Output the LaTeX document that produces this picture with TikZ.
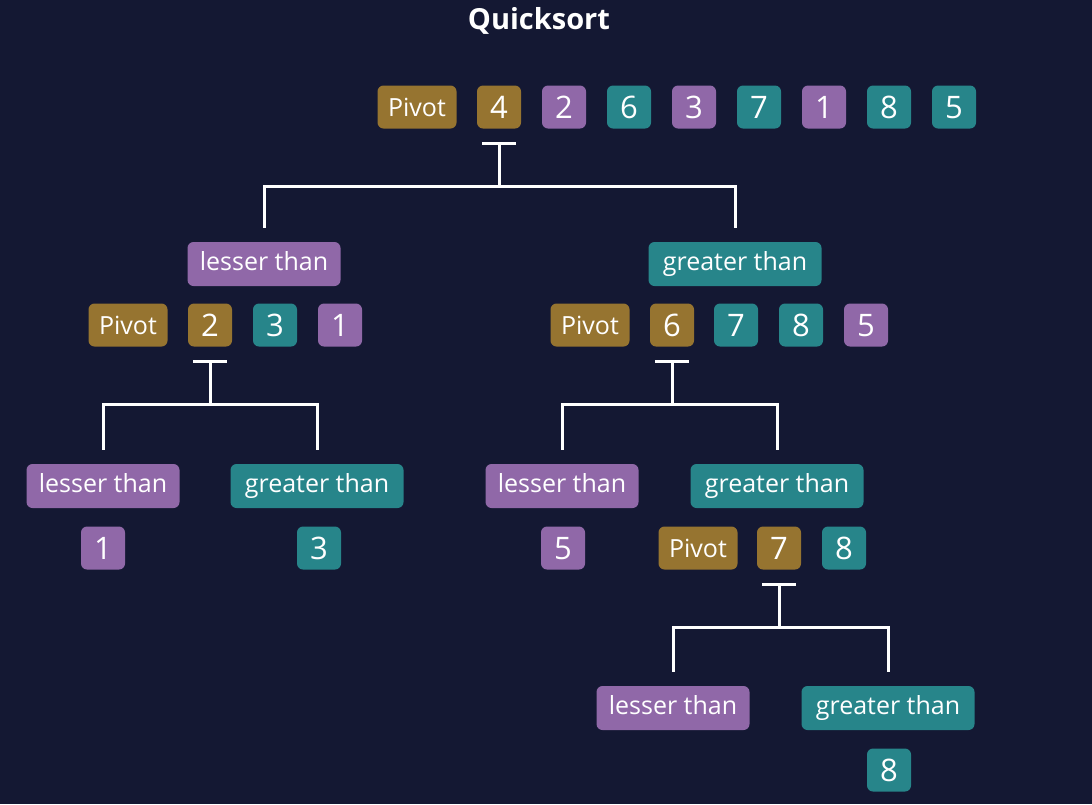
\documentclass[tikz,border=0pt]{standalone}
\usepackage{fontspec}
\setmainfont{Open Sans}
\usetikzlibrary{calc}
\definecolor{bg}{HTML}{141833}
\definecolor{gold}{HTML}{967430}
\definecolor{purp}{HTML}{9068A8}
\definecolor{tealc}{HTML}{27858A}
\begin{document}
\begin{tikzpicture}[x=1pt,y=-1pt,
 box/.style={rounded corners=6pt, inner sep=0pt, text=white, minimum height=43pt},
 num/.style={box, minimum width=44pt, font=\fontsize{31}{31}\selectfont, text height=22.5pt, text depth=0pt},
 pv/.style={box, fill=gold, minimum width=79pt, font=\fontsize{25}{25}\selectfont, text height=18pt, text depth=0pt},
 lbl/.style={box, minimum height=44pt, font=\fontsize{25}{25}\selectfont, text height=18.5pt, text depth=6pt},
 lt/.style={lbl, fill=purp, minimum width=153pt},
 gt/.style={lbl, fill=tealc, minimum width=173pt},
 G/.style={num, fill=gold}, P/.style={num, fill=purp}, T/.style={num, fill=tealc},
 conn/.style={draw=white, line width=3pt}]
\fill[bg] (0,0) rectangle (1092,804);
\node[font=\bfseries\fontsize{29}{29}\selectfont, text=white] (title) at (539,21) {Quicksort};
% row 1
\node[pv] (p1) at (417,107) {Pivot};
\node[G] (a4) at (499,107) {4};
\node[P] (a2) at (564,107) {2};
\node[T] (a6) at (629,107) {6};
\node[P] (a3) at (694,107) {3};
\node[T] (a7) at (759,107) {7};
\node[P] (a1) at (824,107) {1};
\node[T] (a8) at (889,107) {8};
\node[T] (a5) at (954,107) {5};
% row 2 labels
\node[lt] (lt1) at (264,264) {lesser than};
\node[gt] (gt1) at (735,264) {greater than};
% row 2 numbers
\node[pv] (p2) at (128,325) {Pivot};
\node[G] (b2) at (210,325) {2};
\node[T] (b3) at (275,325) {3};
\node[P] (b1) at (340,325) {1};
\node[pv] (p3) at (590,325) {Pivot};
\node[G] (c6) at (672,325) {6};
\node[T] (c7) at (736,325) {7};
\node[T] (c8) at (801,325) {8};
\node[P] (c5) at (866,325) {5};
% row 3 labels
\node[lt] (lt2) at (103,486) {lesser than};
\node[gt] (gt2) at (317,486) {greater than};
\node[lt] (lt3) at (562,486) {lesser than};
\node[gt] (gt3) at (777,486) {greater than};
% row 4
\node[P] (d1) at (103,548) {1};
\node[T] (d3) at (319,548) {3};
\node[P] (e5) at (563,548) {5};
\node[pv] (p4) at (698,548) {Pivot};
\node[G] (e7) at (779,548) {7};
\node[T] (e8) at (844,548) {8};
% row 5
\node[lt] (lt4) at (673,708) {lesser than};
\node[gt] (gt4) at (888,708) {greater than};
\node[T] (f8) at (889,770) {8};
% connectors
\foreach \n/\l/\r/\h in {a4/lt1/gt1/h1, b2/lt2/gt2/h2, c6/lt3/gt3/h3, e7/lt4/gt4/h4}{
  \draw[conn] ($(\n.south)+(-17,15)$) -- ($(\n.south)+(17,15)$);
  \draw[conn] ($(\n.south)+(0,15)$) -- ($(\n.south)+(0,58)$) coordinate (\h);
  \draw[conn] ($(\l.north)+(0,-14)$) |- (\h) -| ($(\r.north)+(0,-14)$);
}
\end{tikzpicture}
\end{document}
